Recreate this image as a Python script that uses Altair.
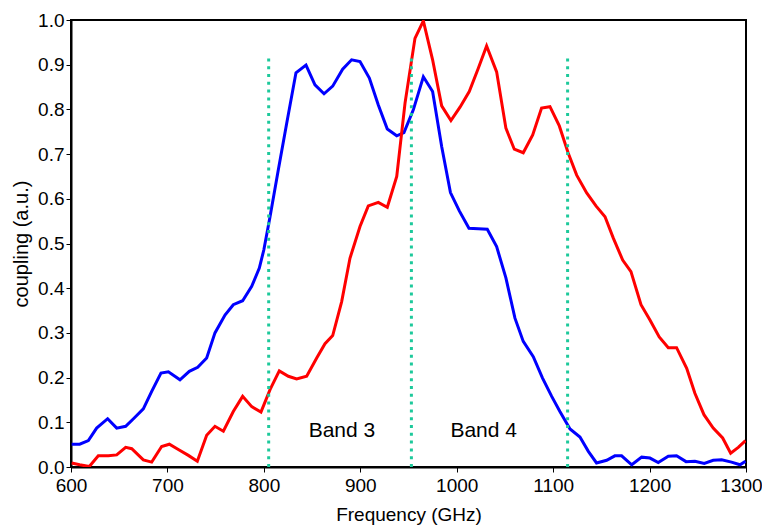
import altair as alt
import pandas as pd

# ---- data ----
blue_f = [600.7, 609, 618, 626.6, 638, 647.4, 656.7, 665.3, 675, 683.7, 693.3, 701, 713, 722.7,
          731.4, 740.7, 749.3, 759.7, 768.3, 778, 787.4, 795.3, 800, 806.4, 815, 823.7, 833.3,
          843.7, 853, 862.4, 871.4, 881.7, 891, 899.7, 909.4, 918.7, 928, 937.8, 945.3, 955,
          965.4, 975, 984.4, 993.5, 1002.7, 1012.7, 1022.4, 1031.7, 1041.4, 1051, 1060.4, 1069,
          1079.4, 1089, 1098.5, 1107, 1117.5, 1127.8, 1136.5, 1145, 1155.5, 1164, 1171, 1181.5,
          1191.8, 1200.4, 1209, 1219.4, 1228, 1237.8, 1247, 1256.7, 1266, 1274.8, 1285, 1293.8,
          1299.5]
blue_v = [0.051, 0.051, 0.059, 0.087, 0.108, 0.087, 0.091, 0.109, 0.130, 0.169, 0.210, 0.213,
          0.195, 0.214, 0.223, 0.244, 0.300, 0.340, 0.363, 0.372, 0.404, 0.445, 0.486, 0.560,
          0.665, 0.769, 0.882, 0.899, 0.855, 0.835, 0.852, 0.890, 0.911, 0.907, 0.870, 0.810,
          0.756, 0.741, 0.748, 0.799, 0.873, 0.840, 0.717, 0.614, 0.573, 0.534, 0.533, 0.532,
          0.493, 0.423, 0.333, 0.281, 0.247, 0.199, 0.158, 0.124, 0.085, 0.067, 0.035, 0.009,
          0.015, 0.025, 0.025, 0.005, 0.022, 0.020, 0.010, 0.024, 0.025, 0.012, 0.013, 0.008,
          0.015, 0.016, 0.011, 0.005, 0.013]

red_f = [600.7, 609, 619, 628.3, 638.7, 647.4, 656.7, 663, 675, 683.7, 694, 702, 711.3, 721.7,
         731, 740.7, 749.3, 758, 768.3, 778, 787.4, 797, 806.4, 816, 825.4, 834, 844.4, 854.8,
         863.4, 871.4, 880.7, 889.3, 899.7, 908.3, 918.7, 928, 937.8, 946.4, 956.7, 965.4, 975,
         984.4, 994, 1003.4, 1013, 1022.4, 1031, 1041.4, 1051, 1059.7, 1069, 1078.8, 1088,
         1096.7, 1106.4, 1115.7, 1124.4, 1134.8, 1144.4, 1153.8, 1162.4, 1172.1, 1180.7, 1191.1,
         1200.4, 1210, 1219.4, 1228, 1238.5, 1247, 1256.4, 1266, 1275.8, 1284.1, 1292, 1299.5]
red_v = [0.009, 0.005, 0.001, 0.025, 0.025, 0.027, 0.044, 0.041, 0.016, 0.011, 0.046, 0.051,
         0.039, 0.026, 0.013, 0.071, 0.091, 0.080, 0.124, 0.158, 0.135, 0.123, 0.173, 0.215,
         0.203, 0.197, 0.203, 0.244, 0.276, 0.294, 0.370, 0.467, 0.538, 0.584, 0.592, 0.581,
         0.650, 0.814, 0.959, 0.998, 0.911, 0.808, 0.775, 0.805, 0.840, 0.892, 0.942, 0.884,
         0.758, 0.711, 0.703, 0.743, 0.803, 0.806, 0.763, 0.702, 0.653, 0.613, 0.584, 0.560,
         0.512, 0.463, 0.437, 0.363, 0.329, 0.291, 0.267, 0.267, 0.221, 0.165, 0.117, 0.087,
         0.065, 0.031, 0.044, 0.059]

band_edges = [805, 953, 1115]
band_top = 0.92
band_labels = ["Band 3", "Band 4"]
band_label_f = [881, 1028]
band_label_v = [0.08, 0.08]

x_ticks = [600, 700, 800, 900, 1000, 1100, 1200, 1300]
y_ticks = [0.0, 0.1, 0.2, 0.3, 0.4, 0.5, 0.6, 0.7, 0.8, 0.9, 1.0]

# ---- tables ----
curves = pd.concat([
    pd.DataFrame({"f": blue_f, "v": blue_v, "s": "blue"}),
    pd.DataFrame({"f": red_f, "v": red_v, "s": "red"}),
])
edges = pd.DataFrame({"f": band_edges, "y0": 0.0, "y1": band_top})
labels = pd.DataFrame({"f": band_label_f, "v": band_label_v, "t": band_labels})

FONT = "Liberation Sans"

xs = alt.Scale(domain=[600, 1300], nice=False, zero=False)
ys = alt.Scale(domain=[0, 1], nice=False)

x_axis = alt.Axis(values=x_ticks, format="d", title="Frequency (GHz)",
                  titlePadding=10, titleFontSize=19, labelFlush=False, labelPadding=4,
                  labelOffset={"condition": {"test": "datum.value == 1300", "value": -5},
                               "value": 0})
y_axis = alt.Axis(values=y_ticks, format=".1f", title="coupling  (a.u.)",
                  titlePadding=6, titleFontSize=20, labelFlush=False, labelPadding=2)

lines = alt.Chart(curves).mark_line(strokeWidth=3, clip=True).encode(
    x=alt.X("f:Q", scale=xs, axis=x_axis),
    y=alt.Y("v:Q", scale=ys, axis=y_axis),
    color=alt.Color("s:N", scale=alt.Scale(domain=["blue", "red"],
                                           range=["#0000FF", "#FF0000"]), legend=None),
    order=alt.Order("f:Q"),
)

rules = alt.Chart(edges).mark_rule(color="#1DC99B", strokeWidth=3,
                                   strokeDash=[3, 4.8]).encode(
    x=alt.X("f:Q", scale=xs),
    y=alt.Y("y0:Q", scale=ys),
    y2="y1:Q",
)

texts = alt.Chart(labels).mark_text(font=FONT, fontSize=21, color="black",
                                    align="center", baseline="middle").encode(
    x=alt.X("f:Q", scale=xs),
    y=alt.Y("v:Q", scale=ys),
    text="t:N",
)

chart = alt.layer(lines, rules, texts).properties(
    width=675, height=447,
    autosize=alt.AutoSizeParams(type="none"),
    padding={"left": 63, "top": 12, "right": 16, "bottom": 60},
).configure_view(
    stroke="black", strokeWidth=2,
).configure_axis(
    grid=False,
    domainColor="black", domainWidth=2,
    tickColor="black", tickSize=5, tickWidth=1,
    labelFont=FONT, labelFontSize=19, labelColor="black",
    titleFont=FONT, titleFontWeight="normal", titleColor="black",
)

chart.save("out.html", embed_options={"renderer": "svg", "actions": False})
